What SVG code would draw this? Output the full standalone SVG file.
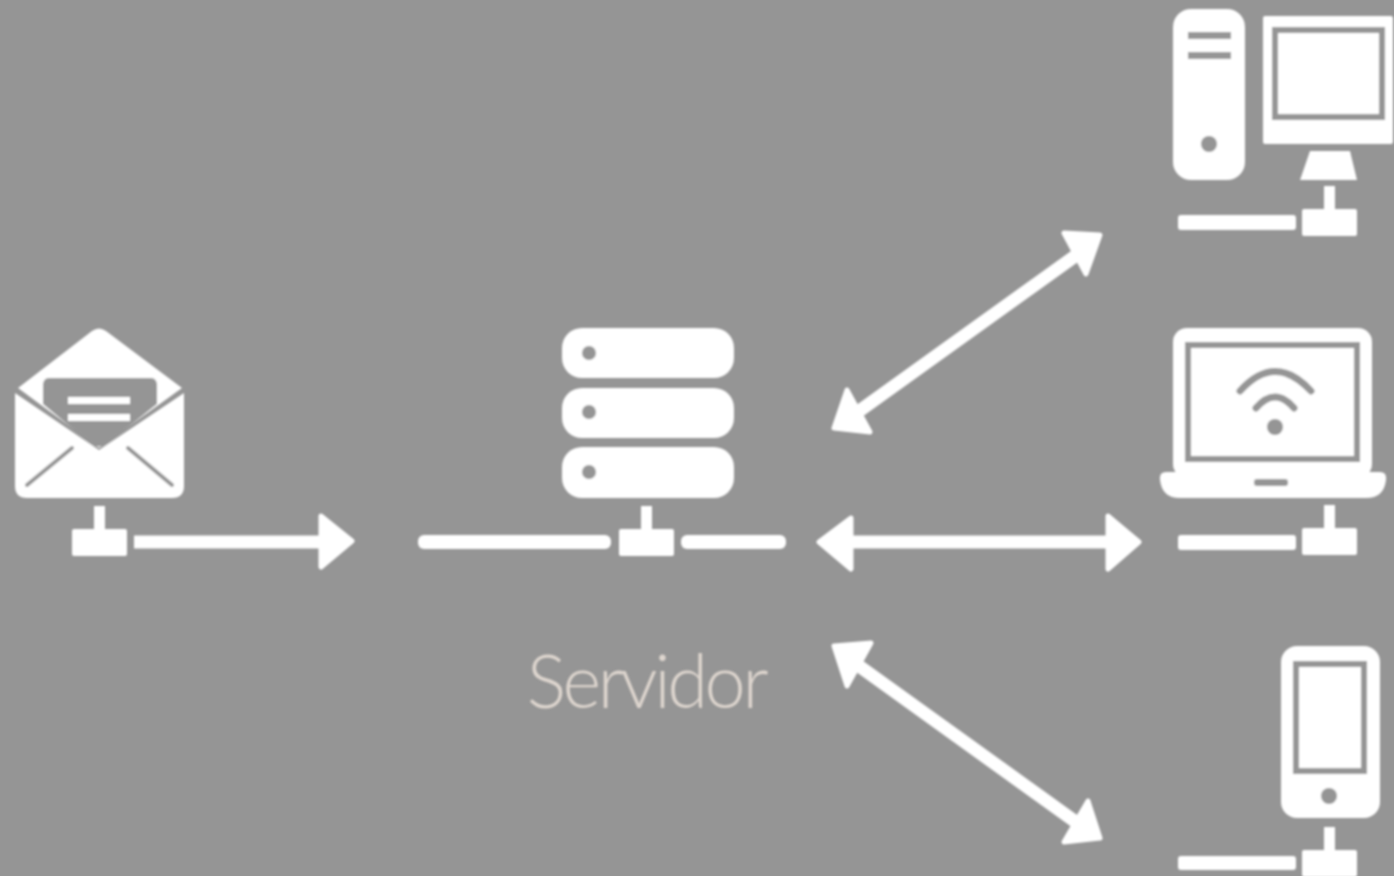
<svg xmlns="http://www.w3.org/2000/svg" width="1394" height="876" viewBox="0 0 1394 876">
<style>
.w{fill:#fff}
.g{fill:#959595}
.o{fill:none;stroke:#959595;stroke-width:6}
.a{stroke:#fff;stroke-width:13;fill:none}
.h{fill:#fff;stroke:#fff;stroke-width:5;stroke-linejoin:round}
.l{font-family:Lato,sans-serif;font-weight:300;font-size:74px;letter-spacing:-3.4px;fill:#ded6cf}
</style>
<defs>
<filter id="soft" x="-5%" y="-5%" width="110%" height="110%"><feGaussianBlur stdDeviation="0.9"/></filter>
<g id="tap"><rect class="w" x="-5" y="-23" width="11" height="24"/><rect class="w" x="-27" y="0" width="55" height="27" rx="2"/></g>
</defs>
<rect width="1394" height="876" fill="#959595"/>
<g filter="url(#soft)">
<g id="connectors">
<g id="c-mail-server"><line class="a" x1="134" y1="542" x2="325" y2="542"/><path class="h" d="M321 516L352 541L321 567Z"/></g>
<g id="c-server-laptop"><line class="a" x1="850" y1="542" x2="1110" y2="542"/><path class="h" d="M851 518L819 542L851 569Z"/><path class="h" d="M1108 516L1139 542L1108 569Z"/></g>
<g id="c-server-pc"><line class="a" x1="855" y1="414" x2="1078" y2="254"/><path class="h" d="M847 390L834 428L870 432Z"/><path class="h" d="M1064 233L1100 235L1086 274Z"/></g>
<g id="c-server-phone"><line class="a" x1="852" y1="661" x2="1080" y2="825"/><path class="h" d="M834 646L871 643L847 686Z"/><path class="h" d="M1088 801L1100 838L1064 842Z"/></g>
</g>
<g id="mail">
<path class="w" d="M18 388L92 331Q99 326 106 331L182 388L99 448Z"/>
<path class="w" d="M15 393L99 450L184 393V486Q184 498 172 498H27Q15 498 15 486Z"/>
<path class="g" d="M49 378H151Q157 378 157 386V404L107 444Q99 449 91 444L43 404V386Q43 378 49 378Z"/>
<rect class="w" x="68" y="397" width="62" height="7"/>
<rect class="w" x="68" y="414" width="62" height="7"/>
<path d="M27 485L72 448M172 485L128 448" stroke="#959595" stroke-width="4" stroke-linecap="round" fill="none"/>
<use href="#tap" x="99" y="529"/>
</g>
<g id="server">
<rect class="w" x="562" y="328" width="172" height="50" rx="20"/>
<rect class="w" x="562" y="388" width="172" height="50" rx="20"/>
<rect class="w" x="562" y="447" width="172" height="51" rx="20"/>
<circle class="g" cx="589" cy="353" r="7"/><circle class="g" cx="589" cy="412" r="7"/><circle class="g" cx="589" cy="472" r="7"/>
<use href="#tap" x="646" y="529"/>
<rect class="w" x="418" y="535" width="193" height="14" rx="6"/>
<rect class="w" x="681" y="535" width="105" height="14" rx="6"/>
<text class="l" x="646" y="708" text-anchor="middle">Servidor</text>
</g>
<g id="computer">
<rect class="w" x="1173" y="9" width="72" height="171" rx="18"/>
<rect class="g" x="1188" y="32" width="43" height="7"/><rect class="g" x="1188" y="52" width="43" height="7"/>
<circle class="g" cx="1209" cy="144" r="8"/>
<rect class="w" x="1263" y="16" width="130" height="128" rx="2"/>
<rect class="o" x="1275" y="30" width="107" height="87"/>
<path class="w" d="M1310 151H1350L1357 180H1300Z"/>
<use href="#tap" x="1329" y="209"/>
<rect class="w" x="1178" y="215" width="118" height="15" rx="3"/>
</g>
<g id="laptop">
<rect class="w" x="1173" y="328" width="199" height="150" rx="14"/>
<path class="w" d="M1166 472H1380Q1387 472 1386 480Q1384 498 1366 498H1180Q1162 498 1160 480Q1159 472 1166 472Z"/>
<rect class="o" x="1188" y="345" width="169" height="114"/>
<rect class="g" x="1254" y="479" width="34" height="7" rx="3"/>
<path d="M1240 391Q1275 352 1311 391M1256 408Q1275 386 1294 408" fill="none" stroke="#959595" stroke-width="7" stroke-linecap="round"/>
<circle class="g" cx="1275" cy="427" r="8"/>
<use href="#tap" x="1329" y="528"/>
<rect class="w" x="1178" y="535" width="118" height="15" rx="3"/>
</g>
<g id="phone">
<rect class="w" x="1281" y="646" width="99" height="172" rx="16"/>
<rect class="o" x="1296" y="664" width="68" height="107"/>
<circle class="g" cx="1329" cy="796" r="8"/>
<use href="#tap" x="1329" y="850"/>
<rect class="w" x="1178" y="856" width="118" height="14" rx="3"/>
</g>
</g>
</svg>
